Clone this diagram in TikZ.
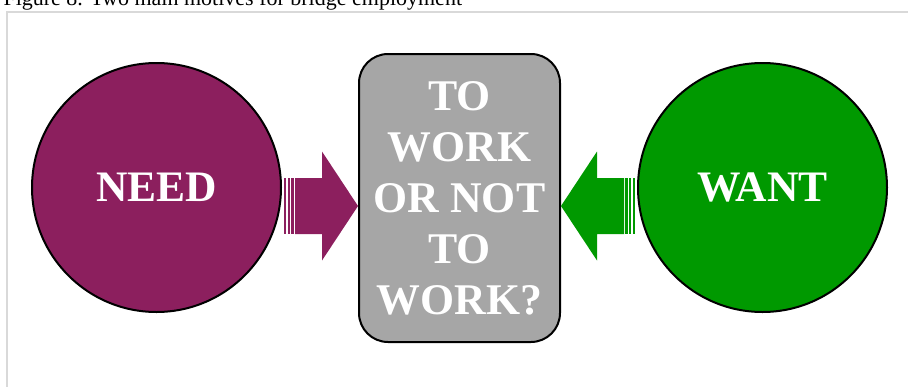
\documentclass[tikz,border=0pt]{standalone}
\usepackage{fontspec}
\setmainfont{Liberation Serif}
\usetikzlibrary{calc}
\definecolor{needc}{HTML}{8C1F5E}
\definecolor{wantc}{HTML}{009900}
\definecolor{askc}{HTML}{A6A6A6}
\definecolor{framec}{HTML}{D9D9D9}
\tikzset{
  blockarrow/.pic={
    \fill (0,0) -- (-36,-54.5) -- (-36,-28) -- (-63,-28) -- (-63,28) -- (-36,28) -- (-36,54.5) -- cycle;
    \fill (-74,-28) rectangle (-71.6,28);
    \fill (-70.4,-28) rectangle (-68,28);
    \fill (-66.8,-28) rectangle (-64.4,28);
  }
}
\begin{document}
\begin{tikzpicture}[x=1pt,y=-1pt,
  motive/.style={circle,draw=black,line width=2pt,minimum size=249pt,inner sep=0pt,
    text=white,font=\fontsize{43.5}{52}\selectfont\bfseries},
  bigword/.style={text=white,font=\fontsize{43.8}{51}\selectfont\bfseries,align=center}]
\clip (0,0) rectangle (908,386);
\useasboundingbox (0,0) rectangle (908,386);
\node[anchor=base west,font=\fontsize{22}{26}\selectfont] (cap) at (0,5) {Figure 8. Two main motives for bridge employment};
\draw[framec,line width=2pt] (920,12) -- (7,12) -- (7,400);
\node[motive,fill=needc] (need) at (156.5,187.5) {NEED};
\node[motive,fill=wantc] (want) at (762.5,187.5) {WANT};
\node[draw=black,line width=2pt,fill=askc,rounded corners=29pt,minimum width=201pt,minimum height=288pt,inner sep=0pt,bigword] (q) at (459.5,198) {TO\\WORK\\OR NOT\\TO\\WORK?};
\coordinate (ltip) at ($(q.west)+(0,8)$);
\coordinate (rtip) at ($(q.east)+(0,8)$);
\pic[fill=needc] at (ltip) {blockarrow};
\pic[fill=wantc,xscale=-1] at (rtip) {blockarrow};
\end{tikzpicture}
\end{document}
